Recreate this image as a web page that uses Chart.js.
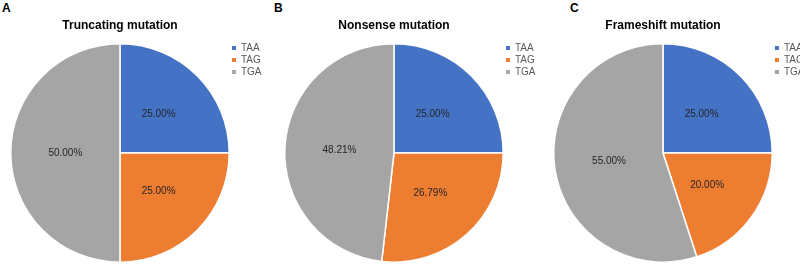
<!DOCTYPE html>
<html>
<head>
<meta charset="utf-8">
<script src="https://cdn.jsdelivr.net/npm/chart.js@4.4.1/dist/chart.umd.min.js"></script>
<style>
  html, body { margin: 0; padding: 0; background: #fff; overflow: hidden; }
  #wrap { position: relative; width: 800px; height: 265px; overflow: hidden; }
  .panel { position: absolute; top: 0; width: 280px; height: 265px; }
  .letter {
    position: absolute; top: 2px;
    font: bold 12px "Liberation Sans", Arial, sans-serif; line-height: 12px; color: #000;
  }
</style>
</head>
<body>
<div id="wrap">
  <div class="letter" style="left:2px">A</div>
  <div class="letter" style="left:274px">B</div>
  <div class="letter" style="left:570px">C</div>
  <div class="panel" style="left:0px"><canvas id="chartA" width="280" height="265"></canvas></div>
  <div class="panel" style="left:274px"><canvas id="chartB" width="280" height="265"></canvas></div>
  <div class="panel" style="left:543px"><canvas id="chartC" width="280" height="265"></canvas></div>
</div>
<script>
// ───────── 데이터 ─────────
const codons = ['TAA', 'TAG', 'TGA'];
const truncatingPct = [25.00, 25.00, 50.00];
const nonsensePct = [25.00, 26.79, 48.21];
const frameshiftPct = [25.00, 20.00, 55.00];
const chartTitles = ['Truncating mutation', 'Nonsense mutation', 'Frameshift mutation'];

const sliceColors = ['#4472C4', '#ED7D31', '#A5A5A5'];
const FONT = '"Liberation Sans", Arial, sans-serif';

// ─ 조각 가운데에 퍼센트 표시
const pctLabels = {
  id: 'pctLabels',
  afterDatasetsDraw(chart) {
    const ctx = chart.ctx;
    const ds = chart.data.datasets[0];
    ctx.save();
    ctx.font = '10px ' + FONT;
    ctx.fillStyle = '#262626';
    ctx.textAlign = 'center';
    ctx.textBaseline = 'middle';
    chart.getDatasetMeta(0).data.forEach((arc, i) => {
      const p = arc.getCenterPoint();
      ctx.fillText(ds.data[i].toFixed(2) + '%', p.x, p.y);
    });
    ctx.restore();
  }
};

function makePie(id, title, values) {
  const ctx = document.getElementById(id).getContext('2d');
  return new Chart(ctx, {
    type: 'pie',
    data: {
      labels: codons,
      datasets: [{
        data: values,
        backgroundColor: sliceColors,
        borderColor: '#ffffff',
        borderWidth: 1.5
      }]
    },
    options: {
      responsive: false,
      animation: false,
      events: [],
      layout: { padding: { left: 10, right: 8.5, top: 0, bottom: 0 } },
      plugins: {
        title: {
          display: true,
          text: title,
          fullSize: false,
          color: '#000',
          font: { family: FONT, size: 12, weight: 'bold' },
          padding: { top: 18.5, bottom: 8 }
        },
        legend: {
          position: 'right',
          align: 'start',
          fullSize: false,
          labels: {
            boxWidth: 4,
            boxHeight: 4,
            padding: 2,
            color: '#595959',
            font: { family: FONT, size: 10 },
            generateLabels: c => Chart.overrides.pie.plugins.legend.labels
              .generateLabels(c).map(l => ({ ...l, lineWidth: 0 }))
          }
        },
        tooltip: { enabled: false }
      }
    },
    plugins: [pctLabels]
  });
}

// ─ 초기화
makePie('chartA', chartTitles[0], truncatingPct);
makePie('chartB', chartTitles[1], nonsensePct);
makePie('chartC', chartTitles[2], frameshiftPct);
</script>
</body>
</html>
